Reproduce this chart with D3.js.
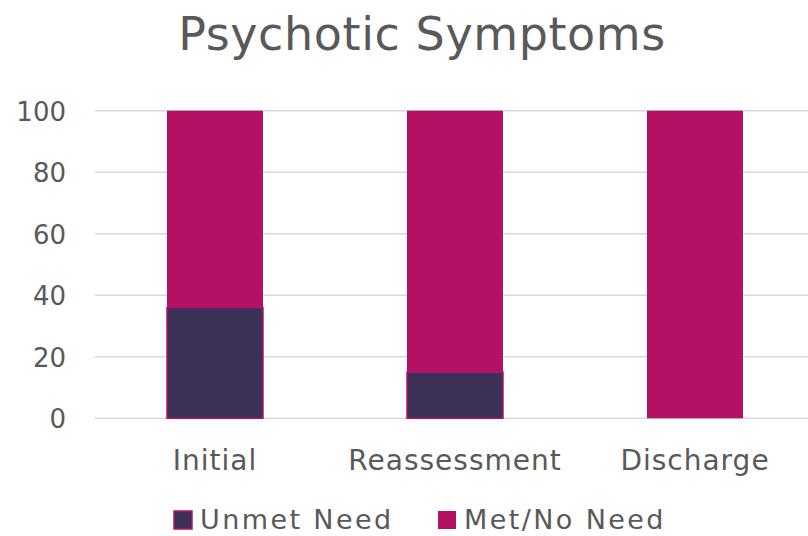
<!DOCTYPE html>
<html>
<head>
<meta charset="utf-8">
<script src="https://cdn.jsdelivr.net/npm/d3@7"></script>
<style>
  html, body { margin: 0; padding: 0; background: #fff; }
  svg { display: block; font-family: "DejaVu Sans", sans-serif; }
</style>
</head>
<body>
<svg id="chart" width="808" height="536"></svg>
<script>
// Share of clients by need status at each assessment point (%)
const categories = ["Initial", "Reassessment", "Discharge"];
const unmetNeed = [36, 15, 0];
const metNoNeed = [64, 85, 100];
const seriesNames = ["Unmet Need", "Met/No Need"];
const yTicks = [0, 20, 40, 60, 80, 100];

const colors = { "Unmet Need": "#3b3158", "Met/No Need": "#b31264" };
const textColor = "#595959";

const svg = d3.select("#chart");
const width = 808, height = 536;
const margin = { left: 95, right: -7, top: 110.7, bottom: 117.7 };

const x = d3.scaleBand()
  .domain(categories)
  .range([margin.left, width - margin.right])
  .paddingInner(0.6)
  .paddingOuter(0.3);

const y = d3.scaleLinear()
  .domain([0, 100])
  .range([height - margin.bottom, margin.top]);

// Title
svg.append("text")
  .attr("x", 422)
  .attr("y", 50)
  .attr("text-anchor", "middle")
  .attr("fill", textColor)
  .attr("font-size", 46)
  .attr("letter-spacing", 0.6)
  .text("Psychotic Symptoms");

// Gridlines
svg.append("g")
  .selectAll("line")
  .data(yTicks)
  .join("line")
  .attr("x1", margin.left)
  .attr("x2", width)
  .attr("y1", d => y(d))
  .attr("y2", d => y(d))
  .attr("stroke", "#d9d9d9")
  .attr("stroke-width", 1.5);

// Y axis labels
const yAxis = d3.axisLeft(y).tickValues(yTicks).tickSize(0).tickPadding(0);
svg.append("g")
  .attr("transform", `translate(66,0)`)
  .call(yAxis)
  .call(g => g.select(".domain").remove())
  .call(g => g.selectAll("text")
    .attr("fill", textColor)
    .attr("font-size", 26)
    .attr("font-family", "DejaVu Sans, sans-serif")
    .attr("dy", "0.36em"));

// Stacked bars
const rows = categories.map((c, i) => ({ category: c, "Unmet Need": unmetNeed[i], "Met/No Need": metNoNeed[i] }));
const stacked = d3.stack().keys(seriesNames)(rows);

svg.append("g")
  .selectAll("g")
  .data(stacked)
  .join("g")
  .attr("fill", d => colors[d.key])
  .selectAll("rect")
  .data(d => d.filter(p => p[1] - p[0] > 0).map(p => ({ key: d.key, p })))
  .join("rect")
  .attr("x", d => x(d.p.data.category))
  .attr("width", x.bandwidth())
  .attr("y", d => y(d.p[1]))
  .attr("height", d => y(d.p[0]) - y(d.p[1]))
  .attr("stroke", d => d.key === "Unmet Need" ? colors["Met/No Need"] : "none")
  .attr("stroke-width", 1.5);

// Category labels
const xAxis = d3.axisBottom(x).tickSize(0).tickPadding(0);
svg.append("g")
  .attr("transform", `translate(0,${y(0)})`)
  .call(xAxis)
  .call(g => g.select(".domain").remove())
  .call(g => g.selectAll("text")
    .attr("fill", textColor)
    .attr("font-size", 28)
    .attr("letter-spacing", 1)
    .attr("font-family", "DejaVu Sans, sans-serif")
    .attr("dy", null)
    .attr("y", 52));

// Legend
const legendItems = [
  { key: "Unmet Need", x: 174 },
  { key: "Met/No Need", x: 438 }
];
const legend = svg.append("g");
legendItems.forEach(item => {
  legend.append("rect")
    .attr("x", item.x)
    .attr("y", 511)
    .attr("width", 18)
    .attr("height", 18)
    .attr("fill", colors[item.key])
    .attr("stroke", item.key === "Unmet Need" ? colors["Met/No Need"] : "none")
    .attr("stroke-width", 1.5);
  legend.append("text")
    .attr("x", item.x + 26)
    .attr("y", 529)
    .attr("fill", textColor)
    .attr("font-size", 27)
    .attr("letter-spacing", 2.4)
    .text(item.key);
});
</script>
</body>
</html>
